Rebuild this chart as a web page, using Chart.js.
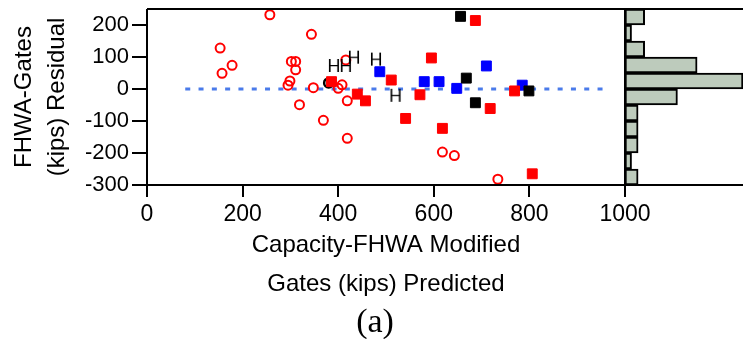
<!DOCTYPE html>
<html>
<head>
<meta charset="utf-8">
<script src="https://cdn.jsdelivr.net/npm/chart.js@4.4.1/dist/chart.umd.min.js"></script>
<style>
    body { margin: 0; background: #fff; overflow: hidden; }
    #wrap { position: relative; width: 743px; height: 339px; }
    #caption {
        position: absolute; left: 325px; top: 304px; width: 100px;
        text-align: center; font: 34px/34px "Liberation Serif", "Times New Roman", serif; color: #000;
    }
</style>
</head>
<body>
<div id="wrap">
    <canvas id="residualChart" width="743" height="339"></canvas>
    <div id="caption">(a)</div>
</div>
<script>
// kips
const redCircleX = [153, 157, 178, 257, 295, 299, 302, 311, 311, 319, 344, 348, 369, 400, 408, 416, 419, 419, 618, 643, 734];
const redCircleY = [128, 49, 74, 232, 12, 25, 86, 86, 60, -49, 171, 4, -98, 2, 13, 91, -37, -154, -197, -208, -282];

const redSquareX = [386, 440, 457, 511, 541, 571, 595, 618, 687, 718, 769, 806];
const redSquareY = [23, -16, -37, 28, -92, -18, 97, -123, 214, -61, -6, -265];

const blueSquareX = [487, 580, 611, 648, 710, 785];
const blueSquareY = [54, 23, 23, 2, 72, 12];

const blackSquareX = [656, 668, 687, 799];
const blackSquareY = [227, 34, -43, -6];

const blackCircleX = [380];
const blackCircleY = [19];

const hMarkerX = [391, 416, 433, 479, 520];
const hMarkerY = [75, 75, 101, 95, -18];

const zeroLineX = [80, 960];
const zeroLineY = [0, 0];

// residual histogram, 50 kip bins, top to bottom
const binCenters = [225, 175, 125, 75, 25, -25, -75, -125, -175, -225, -275];
const binCounts = [3, 1, 3, 11, 18, 8, 2, 2, 2, 1, 2];

const xTickValues = [0, 200, 400, 600, 800, 1000];
const yTickValues = [-300, -200, -100, 0, 100, 200];

const plotWidth = 478;   // px, main panel
const histWidth = 118;   // px, side panel
const histSpan = 18;     // count that reaches the right edge

const sansFont = '"Liberation Sans", Arial, sans-serif';

function points(xs, ys) {
    return xs.map((x, i) => ({ x: x, y: ys[i] }));
}

function makeLetterMarker(letter) {
    const c = document.createElement('canvas');
    c.width = 16;
    c.height = 18;
    const g = c.getContext('2d');
    g.fillStyle = '#000';
    g.font = '18px ' + sansFont;
    g.textAlign = 'center';
    g.fillText(letter, 8, 15.5);
    return c;
}

// frame lines and the long/short tick marks
const framePlugin = {
    id: 'frame',
    afterDatasetsDraw(chart) {
        const ctx = chart.ctx;
        const a = chart.chartArea;
        const left = Math.round(a.left), right = Math.round(a.right);
        const top = Math.round(a.top), bottom = Math.round(a.bottom);

        ctx.save();
        ctx.strokeStyle = '#000';
        ctx.lineWidth = 2;
        ctx.beginPath();
        ctx.moveTo(left, top); ctx.lineTo(chart.width, top);
        ctx.moveTo(left, bottom); ctx.lineTo(chart.width, bottom);
        ctx.moveTo(left, top); ctx.lineTo(left, bottom);
        ctx.moveTo(right, top); ctx.lineTo(right, bottom);

        chart.scales.x.ticks.forEach((t) => {
            const px = Math.round(chart.scales.x.getPixelForValue(t.value));
            const len = xTickValues.includes(t.value) ? 12 : 7;
            ctx.moveTo(px, bottom); ctx.lineTo(px, bottom + len);
        });
        chart.scales.y.ticks.forEach((t) => {
            const py = Math.round(chart.scales.y.getPixelForValue(t.value));
            const len = yTickValues.includes(t.value) ? 15 : 7;
            ctx.moveTo(left - len, py); ctx.lineTo(left, py);
        });
        ctx.stroke();
        ctx.restore();
    }
};

function main() {
    Chart.defaults.color = '#000';
    Chart.defaults.font.family = sansFont;

    const hMarker = makeLetterMarker('H');

    new Chart('residualChart', {
        type: 'scatter',
        data: {
            datasets: [{
                data: points(zeroLineX, zeroLineY),
                showLine: true,
                borderColor: '#4a7bea',
                borderWidth: 3,
                borderDash: [5, 8.3],
                pointRadius: 0,
                order: 10
            }, {
                type: 'bar',
                indexAxis: 'y',
                xAxisID: 'x2',
                yAxisID: 'y',
                data: binCenters.map((c, i) => ({ x: binCounts[i], y: c })),
                backgroundColor: '#bdcbbc',
                borderColor: '#000',
                borderWidth: 2,
                borderSkipped: false,
                grouped: false,
                barPercentage: 1,
                categoryPercentage: 1,
                clip: false,
                order: 9
            }, {
                data: points(redCircleX, redCircleY),
                pointStyle: 'circle',
                pointRadius: 4.5,
                borderWidth: 2,
                borderColor: '#ff0000',
                backgroundColor: 'rgba(0,0,0,0)',
                order: 6
            }, {
                data: points(blackCircleX, blackCircleY),
                pointStyle: 'circle',
                pointRadius: 4.5,
                borderWidth: 2.5,
                borderColor: '#000',
                backgroundColor: 'rgba(0,0,0,0)',
                order: 5
            }, {
                data: points(blueSquareX, blueSquareY),
                pointStyle: 'rect',
                pointRadius: 7,
                borderWidth: 1,
                borderColor: '#0000ff',
                backgroundColor: '#0000ff',
                order: 4
            }, {
                data: points(redSquareX, redSquareY),
                pointStyle: 'rect',
                pointRadius: 7,
                borderWidth: 1,
                borderColor: '#ff0000',
                backgroundColor: '#ff0000',
                order: 3
            }, {
                data: points(blackSquareX, blackSquareY),
                pointStyle: 'rect',
                pointRadius: 7,
                borderWidth: 1,
                borderColor: '#000',
                backgroundColor: '#000',
                order: 2
            }, {
                data: points(hMarkerX, hMarkerY),
                pointStyle: hMarker,
                pointRadius: 8,
                order: 1
            }]
        },
        options: {
            responsive: false,
            animation: false,
            events: [],
            layout: { padding: { left: 0, right: histWidth, top: 7, bottom: 35 } },
            plugins: { legend: { display: false }, tooltip: { enabled: false } },
            scales: {
                x: {
                    type: 'linear',
                    position: 'bottom',
                    offset: false,
                    min: 0,
                    max: 1000,
                    grid: { display: false, drawTicks: false, offset: false },
                    border: { display: false },
                    ticks: {
                        stepSize: 100,
                        autoSkip: false,
                        maxRotation: 0,
                        padding: 16,
                        font: { size: 23 },
                        callback: (v) => xTickValues.includes(v) ? String(v) : null
                    },
                    title: {
                        display: true,
                        text: ['Capacity-FHWA Modified', 'Gates (kips) Predicted'],
                        font: { size: 24, lineHeight: 39 / 24 },
                        padding: { top: 0, bottom: 0 }
                    },
                    afterFit: (scale) => { scale.height = 119; }
                },
                x2: {
                    type: 'linear',
                    position: 'bottom',
                    display: false,
                    offset: false,
                    min: -histSpan * plotWidth / histWidth,
                    max: 0
                },
                y: {
                    type: 'linear',
                    position: 'left',
                    offset: false,
                    min: -300,
                    max: 250,
                    grid: { display: false, drawTicks: false, offset: false },
                    border: { display: false },
                    ticks: {
                        stepSize: 50,
                        autoSkip: false,
                        padding: 18,
                        font: { size: 22 },
                        callback: (v) => yTickValues.includes(v) ? String(v) : null
                    },
                    title: {
                        display: true,
                        text: ['FHWA-Gates', '(kips) Residual'],
                        font: { size: 24, lineHeight: 33 / 24 },
                        padding: { top: 8, bottom: 0 }
                    },
                    afterFit: (scale) => {
                        scale.width = 147;
                        scale.paddingTop = 0;
                        scale.paddingBottom = 0;
                    }
                }
            }
        },
        plugins: [framePlugin]
    });
}

window.onload = main;
</script>
</body>
</html>
